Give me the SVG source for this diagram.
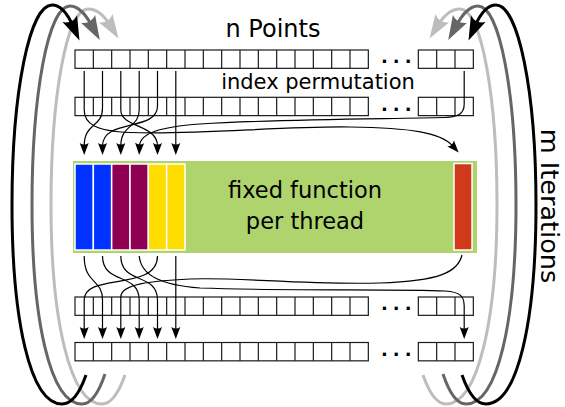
<svg xmlns="http://www.w3.org/2000/svg" xmlns:xlink="http://www.w3.org/1999/xlink" width="565" height="407" viewBox="0 0 565 407">
  <style>
    .cell { fill: #ffffff; stroke: #1a1a1a; stroke-width: 1.2; }
    .grid { fill: none; stroke: #1a1a1a; stroke-width: 1.2; }
    .dots { font-family: "DejaVu Sans", sans-serif; font-weight: bold; font-size: 18px; letter-spacing: 5px; fill: #000; }
    .label { font-family: "DejaVu Sans", "Noto Sans", sans-serif; fill: #000; }
    .wire { fill: none; stroke: #000; stroke-width: 1.2; marker-end: url(#tip); }
    .loop { fill: none; stroke-width: 3; }
    .bar { stroke: #ffffff; stroke-width: 1.5; }
  </style>
  <defs>
    <marker id="tip" markerUnits="userSpaceOnUse" orient="auto" markerWidth="20" markerHeight="20" refX="0" refY="0" viewBox="-10 -10 20 20" overflow="visible">
      <path d="M 9 0 L -3 -4.5 Q 0 0 -3 4.5 Z" fill="#000"/>
    </marker>
    <marker id="big-black" markerUnits="userSpaceOnUse" orient="auto" markerWidth="40" markerHeight="40" refX="0" refY="0" viewBox="-20 -20 40 40" overflow="visible">
      <path d="M 16 0 L -8 -8 Q -2 0 -8 8 Z" fill="#000000"/>
    </marker>
    <marker id="big-dark" markerUnits="userSpaceOnUse" orient="auto" markerWidth="40" markerHeight="40" refX="0" refY="0" viewBox="-20 -20 40 40" overflow="visible">
      <path d="M 16 0 L -8 -8 Q -2 0 -8 8 Z" fill="#666666"/>
    </marker>
    <marker id="big-light" markerUnits="userSpaceOnUse" orient="auto" markerWidth="40" markerHeight="40" refX="0" refY="0" viewBox="-20 -20 40 40" overflow="visible">
      <path d="M 16 0 L -8 -8 Q -2 0 -8 8 Z" fill="#bdbdbd"/>
    </marker>
    <!-- one row of point cells: 16 cells, then three trailing cells -->
    <g id="cellrow">
      <rect class="cell" x="75" y="0" width="293.33" height="18.33"/>
      <path class="grid" d="M93.33 0V18.33M111.67 0V18.33M130 0V18.33M148.33 0V18.33M166.67 0V18.33M185 0V18.33M203.33 0V18.33M221.67 0V18.33M240 0V18.33M258.33 0V18.33M276.67 0V18.33M295 0V18.33M313.33 0V18.33M331.67 0V18.33M350 0V18.33"/>
      <rect class="cell" x="418.33" y="0" width="55" height="18.33"/>
      <path class="grid" d="M436.67 0V18.33M455 0V18.33"/>
    </g>
  </defs>

  <!-- iteration loops (drawn first, behind everything) -->
  <g id="loops">
    <g id="loops-left">
      <path class="loop" stroke="#bdbdbd" marker-end="url(#big-light)" d="M 125,375 C 119,392 112,404 102,404 C 70,404 51,320 51,205 C 51,100 66,9 88,9 C 98,9 105,17 110,25"/>
      <path class="loop" stroke="#666666" marker-end="url(#big-dark)" d="M 105,374 C 99,392 92,404 82,404 C 50,404 32,320 32,205 C 32,95 48,6 70,6 C 80,6 87,17 92,26"/>
      <path class="loop" stroke="#000000" marker-end="url(#big-black)" d="M 86,375 C 80,392 72,404 62,404 C 30,404 12,320 12,205 C 12,90 30,5 52,5 C 62,5 69,17 73,26"/>
    </g>
    <g id="loops-right" transform="translate(548,0) scale(-1,1)">
      <path class="loop" stroke="#bdbdbd" marker-end="url(#big-light)" d="M 125,375 C 119,392 112,404 102,404 C 70,404 51,320 51,205 C 51,100 66,9 88,9 C 98,9 105,17 110,25"/>
      <path class="loop" stroke="#666666" marker-end="url(#big-dark)" d="M 105,374 C 99,392 92,404 82,404 C 50,404 32,320 32,205 C 32,95 48,6 70,6 C 80,6 87,17 92,26"/>
      <path class="loop" stroke="#000000" marker-end="url(#big-black)" d="M 86,375 C 80,392 72,404 62,404 C 30,404 12,320 12,205 C 12,90 30,5 52,5 C 62,5 69,17 73,26"/>
    </g>
  </g>

  <!-- point rows -->
  <g id="row-input">
    <use xlink:href="#cellrow" y="50"/>
    <text class="dots" x="381" y="63">...</text>
  </g>
  <g id="row-permuted">
    <use xlink:href="#cellrow" y="97.3"/>
    <text class="dots" x="381" y="111">...</text>
  </g>
  <g id="row-result">
    <use xlink:href="#cellrow" y="297"/>
    <text class="dots" x="381" y="310">...</text>
  </g>
  <g id="row-output">
    <use xlink:href="#cellrow" y="342.5"/>
    <text class="dots" x="381" y="355.5">...</text>
  </g>

  <!-- thread block -->
  <g id="threads">
    <rect x="73" y="161" width="404" height="92" fill="#afd46e"/>
    <rect class="bar" x="75" y="164" width="18.33" height="86" fill="#0033ff"/>
    <rect class="bar" x="93.33" y="164" width="18.33" height="86" fill="#0033ff"/>
    <rect class="bar" x="111.67" y="164" width="18.33" height="86" fill="#8f0052"/>
    <rect class="bar" x="130" y="164" width="18.33" height="86" fill="#8f0052"/>
    <rect class="bar" x="148.33" y="164" width="18.33" height="86" fill="#ffdd00"/>
    <rect class="bar" x="166.67" y="164" width="18.33" height="86" fill="#ffdd00"/>
    <rect class="bar" x="454" y="163.5" width="18" height="86.5" fill="#d0391a"/>
    <text class="label" x="305" y="198" font-size="22.5" text-anchor="middle">fixed function</text>
    <text class="label" x="305" y="229" font-size="22.5" text-anchor="middle">per thread</text>
  </g>

  <!-- labels -->
  <g id="labels">
    <text class="label" x="273" y="37" font-size="24" text-anchor="middle">n Points</text>
    <text class="label" x="318" y="89.3" font-size="21" text-anchor="middle">index permutation</text>
    <text class="label" font-size="25.5" text-anchor="middle" transform="translate(541,206) rotate(90)">m Iterations</text>
  </g>

  <!-- permutation wires -->
  <g id="connectors">
    <!-- gather: permuted points into threads -->
    <path class="wire" d="M 102.5,71 V 108 C 102.5,128 84.2,122 84.2,146"/>
    <path class="wire" d="M 157.5,71 V 106 C 157.5,132 102.5,118 102.5,146"/>
    <path class="wire" d="M 139.2,71 V 110 C 139.2,128 120.8,124 120.8,146"/>
    <path class="wire" d="M 120.8,71 V 110 C 120.8,128 157.5,124 157.5,146"/>
    <path class="wire" d="M 175.8,71 V 146"/>
    <path class="wire" d="M 464.2,71 V 104 C 464.2,114 458,117 445,117.5 C 380,119 280,119 200,124 C 160,127 140,133 139.5,146"/>
    <path class="wire" d="M 84.2,71 V 110 C 84.2,124 96,131 130,132.5 C 200,135 280,126 350,127 C 410,128 440,132 452.6,145.8"/>

    <!-- scatter: thread results back to points -->
    <path class="wire" d="M 84.2,256 C 84.2,285 102.5,278 102.5,300 V 330"/>
    <path class="wire" d="M 102.5,256 C 102.5,285 139.2,272 139.2,300 V 330"/>
    <path class="wire" d="M 120.8,256 C 120.8,285 157.5,272 157.5,300 V 330"/>
    <path class="wire" d="M 157.5,256 C 157.5,292 84.2,272 84.2,300 V 330"/>
    <path class="wire" d="M 175.8,256 V 330"/>
    <path class="wire" d="M 139.2,256 C 141,275 160,285 200,288 C 280,291 400,289 445,291 C 460,292 464.2,296 464.2,306 V 330"/>
    <path class="wire" d="M 462,255 C 458,272 440,281 380,283 C 300,285 240,277 190,279 C 150,281 121,284 120.8,297 V 330"/>
  </g>
</svg>
